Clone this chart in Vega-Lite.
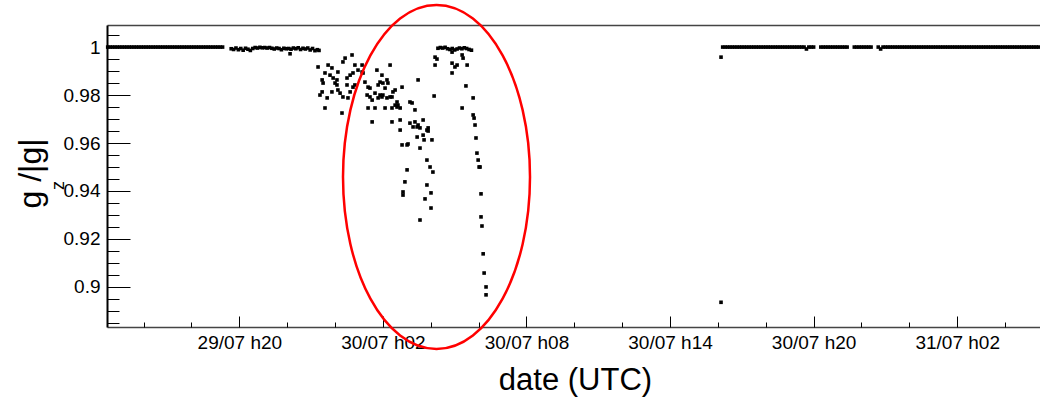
{
"$schema": "https://vega.github.io/schema/vega-lite/v6.json",
"width": 933, "height": 302,
"autosize": {"type": "none"},
"padding": {"left": 107, "top": 25, "right": 0, "bottom": 74},
"background": "white",
"config": {"view": {"stroke": null}, "font": "Liberation Sans",
  "axis": {"grid": false, "labelFont": "Liberation Sans", "titleFont": "Liberation Sans", "labelColor": "#000", "titleColor": "#000", "tickColor": "#000", "tickWidth": 1, "titleFontWeight": "normal", "labelOverlap": false, "labelFlush": false}},
"datasets": {
"gz": [
{"t":14.5,"g":1},{"t":14.6,"g":1},{"t":14.7,"g":1},{"t":14.8,"g":1},{"t":14.9,"g":1},{"t":15.0,"g":1},{"t":15.1,"g":1},{"t":15.2,"g":1},{"t":15.3,"g":1},{"t":15.4,"g":1},
{"t":15.5,"g":1},{"t":15.6,"g":1},{"t":15.7,"g":1},{"t":15.8,"g":1},{"t":15.9,"g":1},{"t":16.0,"g":1},{"t":16.1,"g":1},{"t":16.2,"g":1},{"t":16.3,"g":1},{"t":16.4,"g":1},
{"t":16.5,"g":1},{"t":16.6,"g":1},{"t":16.7,"g":1},{"t":16.8,"g":1},{"t":16.9,"g":1},{"t":17.0,"g":1},{"t":17.1,"g":1},{"t":17.2,"g":1},{"t":17.3,"g":1},{"t":17.4,"g":1},
{"t":17.5,"g":1},{"t":17.6,"g":1},{"t":17.7,"g":1},{"t":17.8,"g":1},{"t":17.9,"g":1},{"t":18.0,"g":1},{"t":18.1,"g":1},{"t":18.2,"g":1},{"t":18.3,"g":1},{"t":18.4,"g":1},
{"t":18.5,"g":1},{"t":18.6,"g":1},{"t":18.7,"g":1},{"t":18.8,"g":1},{"t":18.9,"g":1},{"t":19.0,"g":1},{"t":19.1,"g":1},{"t":19.2,"g":1},{"t":19.3,"g":1},
{"t":19.66,"g":0.9993},{"t":19.76,"g":0.999},{"t":19.86,"g":0.9996},{"t":19.96,"g":0.9989},{"t":20.06,"g":0.9994},{"t":20.16,"g":0.9987},{"t":20.26,"g":0.9995},{"t":20.36,"g":0.9991},{"t":20.46,"g":0.9986},{"t":20.56,"g":0.9994},
{"t":20.66,"g":0.9998},{"t":20.76,"g":0.9996},{"t":20.86,"g":0.9999},{"t":20.96,"g":0.9997},{"t":21.06,"g":0.9998},{"t":21.16,"g":0.9996},{"t":21.26,"g":0.9998},{"t":21.36,"g":0.9995},{"t":21.46,"g":0.9992},{"t":21.56,"g":0.9996},
{"t":21.66,"g":0.9994},{"t":21.76,"g":0.9989},{"t":21.86,"g":0.9995},{"t":21.96,"g":0.9993},{"t":22.06,"g":0.9994},{"t":22.12,"g":0.9972},{"t":22.16,"g":0.9991},{"t":22.26,"g":0.9996},{"t":22.36,"g":0.9993},{"t":22.46,"g":0.9997},
{"t":22.56,"g":0.999},{"t":22.66,"g":0.9995},{"t":22.76,"g":0.9992},{"t":22.86,"g":0.9996},{"t":22.96,"g":0.9988},{"t":23.06,"g":0.9994},{"t":23.16,"g":0.9985},{"t":23.26,"g":0.9989},{"t":23.33,"g":0.9986},
{"t":23.29,"g":0.9917},{"t":23.71,"g":0.9925},{"t":23.87,"g":0.9913},{"t":23.58,"g":0.9892},{"t":23.79,"g":0.9883},{"t":24.12,"g":0.9896},{"t":24.33,"g":0.9938},{"t":24.42,"g":0.9954},{"t":24.71,"g":0.9967},{"t":23.46,"g":0.9863},
{"t":23.5,"g":0.985},{"t":23.92,"g":0.9871},{"t":24.0,"g":0.985},{"t":24.08,"g":0.9863},{"t":24.5,"g":0.9871},{"t":24.63,"g":0.9883},{"t":24.75,"g":0.9892},{"t":24.83,"g":0.9925},{"t":24.96,"g":0.9904},{"t":25.13,"g":0.9925},
{"t":25.13,"g":0.9896},{"t":25.17,"g":0.9892},{"t":23.37,"g":0.98},{"t":23.46,"g":0.9813},{"t":23.67,"g":0.9788},{"t":23.87,"g":0.9813},{"t":24.12,"g":0.9821},{"t":24.21,"g":0.9808},{"t":24.33,"g":0.9792},{"t":24.54,"g":0.9788},
{"t":24.63,"g":0.9813},{"t":24.75,"g":0.9833},{"t":24.83,"g":0.9842},{"t":24.5,"g":0.9842},{"t":24.08,"g":0.9842},{"t":23.58,"g":0.9746},{"t":24.29,"g":0.9725},{"t":25.25,"g":0.9854},{"t":25.38,"g":0.9833},{"t":25.46,"g":0.9829},
{"t":25.75,"g":0.9904},{"t":25.96,"g":0.9883},{"t":25.88,"g":0.9854},{"t":25.8,"g":0.9842},{"t":26.0,"g":0.985},{"t":26.17,"g":0.9863},{"t":26.21,"g":0.985},{"t":26.3,"g":0.9925},{"t":26.09,"g":0.9829},{"t":26.42,"g":0.9813},
{"t":26.51,"g":0.9821},{"t":26.3,"g":0.9792},{"t":26.17,"g":0.9788},{"t":25.88,"g":0.98},{"t":25.67,"g":0.9808},{"t":25.34,"g":0.98},{"t":25.46,"g":0.9792},{"t":25.55,"g":0.9779},{"t":25.8,"g":0.9788},{"t":25.96,"g":0.9792},
{"t":26.0,"g":0.98},{"t":25.38,"g":0.9746},{"t":25.67,"g":0.9746},{"t":26.09,"g":0.9746},{"t":26.38,"g":0.9792},{"t":26.8,"g":0.9833},{"t":26.59,"g":0.9771},{"t":26.63,"g":0.9758},{"t":26.51,"g":0.9758},{"t":26.59,"g":0.975},
{"t":26.72,"g":0.9746},{"t":26.38,"g":0.9746},{"t":25.55,"g":0.9688},{"t":26.38,"g":0.9688},{"t":26.72,"g":0.9696},{"t":26.72,"g":0.9654},{"t":27.13,"g":0.9771},{"t":27.22,"g":0.9767},{"t":27.34,"g":0.9738},{"t":27.47,"g":0.9863},
{"t":27.13,"g":0.9683},{"t":27.34,"g":0.9688},{"t":27.26,"g":0.9667},{"t":27.43,"g":0.9667},{"t":27.68,"g":0.9696},{"t":27.47,"g":0.9675},{"t":27.55,"g":0.9663},{"t":27.89,"g":0.9663},{"t":27.84,"g":0.9654},{"t":27.89,"g":0.965},
{"t":27.43,"g":0.9625},{"t":27.68,"g":0.9633},{"t":27.72,"g":0.9613},{"t":28.05,"g":0.9613},{"t":26.8,"g":0.9592},{"t":27.01,"g":0.9592},{"t":27.05,"g":0.9596},{"t":27.55,"g":0.9579},{"t":27.01,"g":0.9488},{"t":26.92,"g":0.9438},
{"t":26.84,"g":0.9396},{"t":26.84,"g":0.9383},{"t":27.84,"g":0.9529},{"t":27.97,"g":0.95},{"t":28.09,"g":0.9479},{"t":27.84,"g":0.9425},{"t":28.01,"g":0.9392},{"t":27.76,"g":0.9367},{"t":28.01,"g":0.9329},{"t":27.55,"g":0.9279},
{"t":28.14,"g":0.9796},{"t":28.18,"g":0.9958},{"t":28.26,"g":0.995},{"t":28.18,"g":0.9925},{"t":28.89,"g":0.9979},{"t":29.31,"g":0.9967},{"t":29.35,"g":0.9954},{"t":28.89,"g":0.9933},{"t":29.01,"g":0.9917},{"t":29.1,"g":0.9925},
{"t":28.89,"g":0.9892},{"t":29.52,"g":0.9925},{"t":29.47,"g":0.9838},{"t":29.31,"g":0.9746},{"t":29.77,"g":0.9788},{"t":29.77,"g":0.9717},{"t":29.81,"g":0.9704},{"t":29.85,"g":0.9675},{"t":29.89,"g":0.9621},{"t":29.93,"g":0.9558},
{"t":29.98,"g":0.9529},{"t":30.02,"g":0.95},{"t":30.06,"g":0.95},{"t":30.1,"g":0.9388},{"t":30.1,"g":0.9292},{"t":30.14,"g":0.9254},{"t":30.19,"g":0.9138},{"t":30.23,"g":0.9058},{"t":30.31,"g":0.9},{"t":30.31,"g":0.8967},
{"t":28.3,"g":0.9995},{"t":28.4,"g":0.9998},{"t":28.5,"g":0.9996},{"t":28.6,"g":0.9999},{"t":28.7,"g":0.9993},{"t":28.8,"g":0.999},{"t":28.9,"g":0.9994},{"t":29.0,"g":0.9988},{"t":29.1,"g":0.9992},{"t":29.2,"g":0.9996},
{"t":29.3,"g":0.9993},{"t":29.4,"g":0.9997},{"t":29.5,"g":0.9994},{"t":29.6,"g":0.999},{"t":29.7,"g":0.9987},
{"t":40.13,"g":0.9958},{"t":40.13,"g":0.8936},
{"t":40.2,"g":1},{"t":40.3,"g":1},{"t":40.4,"g":1},{"t":40.5,"g":1},{"t":40.6,"g":1},{"t":40.7,"g":1},{"t":40.8,"g":1},{"t":40.9,"g":1},{"t":41.0,"g":1},{"t":41.1,"g":1},
{"t":41.2,"g":1},{"t":41.3,"g":1},{"t":41.4,"g":1},{"t":41.5,"g":1},{"t":41.6,"g":1},{"t":41.7,"g":1},{"t":41.8,"g":1},{"t":41.9,"g":1},{"t":42.0,"g":1},{"t":42.1,"g":1},
{"t":42.2,"g":1},{"t":42.3,"g":1},{"t":42.4,"g":1},{"t":42.5,"g":1},{"t":42.6,"g":1},{"t":42.7,"g":1},{"t":42.8,"g":1},{"t":42.9,"g":1},{"t":43.0,"g":1},{"t":43.1,"g":1},
{"t":43.2,"g":1},{"t":43.3,"g":1},{"t":43.4,"g":1},{"t":43.5,"g":1},{"t":43.6,"g":1},{"t":43.7,"g":0.9992},{"t":43.8,"g":1},{"t":43.9,"g":1},{"t":44.0,"g":1},
{"t":44.3,"g":1},{"t":44.4,"g":1},{"t":44.5,"g":1},{"t":44.6,"g":1},{"t":44.7,"g":1},{"t":44.8,"g":1},{"t":44.9,"g":1},{"t":45.0,"g":1},{"t":45.1,"g":1},{"t":45.2,"g":1},{"t":45.3,"g":1},{"t":45.4,"g":1},
{"t":45.7,"g":1},{"t":45.8,"g":1},{"t":45.9,"g":1},{"t":46.0,"g":1},{"t":46.1,"g":1},{"t":46.2,"g":1},{"t":46.3,"g":1},{"t":46.4,"g":1},
{"t":46.7,"g":1},{"t":46.8,"g":0.9992},{"t":46.9,"g":1},{"t":47.0,"g":1},{"t":47.1,"g":1},{"t":47.2,"g":1},{"t":47.3,"g":1},{"t":47.4,"g":1},{"t":47.5,"g":1},{"t":47.6,"g":1},
{"t":47.7,"g":1},{"t":47.8,"g":1},{"t":47.9,"g":1},{"t":48.0,"g":1},{"t":48.1,"g":1},{"t":48.2,"g":1},{"t":48.3,"g":1},{"t":48.4,"g":1},{"t":48.5,"g":1},{"t":48.6,"g":1},
{"t":48.7,"g":1},{"t":48.8,"g":1},{"t":48.9,"g":1},{"t":49.0,"g":1},{"t":49.1,"g":1},{"t":49.2,"g":1},{"t":49.3,"g":1},{"t":49.4,"g":1},{"t":49.5,"g":1},{"t":49.6,"g":1},
{"t":49.7,"g":1},{"t":49.8,"g":1},{"t":49.9,"g":1},{"t":50.0,"g":1},{"t":50.1,"g":1},{"t":50.2,"g":1},{"t":50.3,"g":1},{"t":50.4,"g":1},{"t":50.5,"g":1},{"t":50.6,"g":1},
{"t":50.7,"g":1},{"t":50.8,"g":1},{"t":50.9,"g":1},{"t":51.0,"g":1},{"t":51.1,"g":1},{"t":51.2,"g":1},{"t":51.3,"g":1},{"t":51.4,"g":1},{"t":51.5,"g":1},{"t":51.6,"g":1},
{"t":51.7,"g":1},{"t":51.8,"g":1},{"t":51.9,"g":1},{"t":52.0,"g":1},{"t":52.1,"g":1},{"t":52.2,"g":1},{"t":52.3,"g":1},{"t":52.4,"g":1},{"t":52.5,"g":1},{"t":52.6,"g":1},
{"t":52.7,"g":1},{"t":52.8,"g":1},{"t":52.9,"g":1},{"t":53.0,"g":1},{"t":53.1,"g":1},{"t":53.2,"g":1},{"t":53.3,"g":1},{"t":53.4,"g":1}
],
"ring": [{"t": 28.24, "g": 0.9458}]
},
"resolve": {"axis": {"x": "independent", "y": "independent"}},
"layer": [
{
"data": {"name": "gz"},
"mark": {"type": "point", "shape": "square", "filled": true, "size": 13, "color": "#000", "opacity": 1},
"encoding": {
 "x": {"field": "t", "type": "quantitative", "scale": {"domain": [14.47, 53.46], "nice": false, "zero": false},
   "axis": {"orient": "bottom", "values": [20, 26, 32, 38, 44, 50],
     "labelExpr": "(29 + floor(datum.value / 24)) + '/07 h' + (datum.value % 24 < 10 ? '0' : '') + (datum.value % 24)",
     "tickSize": -11, "labelPadding": 17, "labelFontSize": 19, "domainColor": "#444", "domainWidth": 1.5,
     "title": "date (UTC)", "titleFontSize": 31, "titleX": 468, "titleY": 62, "titleAlign": "center", "titleBaseline": "alphabetic"}},
 "y": {"field": "g", "type": "quantitative", "scale": {"domain": [0.8833, 1.0092], "nice": false, "zero": false},
   "axis": {"orient": "left", "values": [0.9, 0.92, 0.94, 0.96, 0.98, 1], "format": "~g",
     "tickSize": -23, "labelPadding": 30, "labelFontSize": 19, "domainColor": "#000", "domainWidth": 2,
     "title": "g /|g|", "titleFontSize": 32, "titleX": -67, "titleY": 148, "titleAngle": -90, "titleAlign": "center", "titleBaseline": "alphabetic"}}
}
},
{
"data": {"name": "ring"},
"mark": {"type": "point", "shape": "M0.5436,0C0.5436,0.5523,0.3002,1,0,1C-0.3002,1,-0.5436,0.5523,-0.5436,0C-0.5436,-0.5523,-0.3002,-1,0,-1C0.3002,-1,0.5436,-0.5523,0.5436,0Z", "filled": false, "size": 118336, "stroke": "#ff0000", "strokeWidth": 2.5, "opacity": 1},
"encoding": {
 "x": {"field": "t", "type": "quantitative", "scale": {"domain": [14.47, 53.46], "nice": false, "zero": false},
   "axis": {"orient": "bottom", "values": [16, 18, 20, 22, 24, 26, 28, 30, 32, 34, 36, 38, 40, 42, 44, 46, 48, 50, 52], "labels": false, "domain": false, "tickSize": -5, "title": null}},
 "y": {"field": "g", "type": "quantitative", "scale": {"domain": [0.8833, 1.0092], "nice": false, "zero": false},
   "axis": {"orient": "left", "values": [0.885, 0.89, 0.895, 0.9, 0.905, 0.91, 0.915, 0.92, 0.925, 0.93, 0.935, 0.94, 0.945, 0.95, 0.955, 0.96, 0.965, 0.97, 0.975, 0.98, 0.985, 0.99, 0.995, 1, 1.005],
     "labels": false, "domain": false, "tickSize": -12,
     "title": "z", "titleFontSize": 18, "titleX": -49, "titleY": 160, "titleAngle": -90, "titleAlign": "center", "titleBaseline": "middle"}}
}
},
{
"data": {"name": "ring"},
"mark": {"type": "point", "opacity": 0, "size": 0},
"encoding": {
 "x": {"field": "t", "type": "quantitative", "scale": {"domain": [14.47, 53.46], "nice": false, "zero": false},
   "axis": {"orient": "top", "ticks": false, "labels": false, "domain": true, "domainColor": "#444", "domainWidth": 1.5, "title": null}},
 "y": {"field": "g", "type": "quantitative", "scale": {"domain": [0.8833, 1.0092], "nice": false, "zero": false}, "axis": null}
}
}
]
}
